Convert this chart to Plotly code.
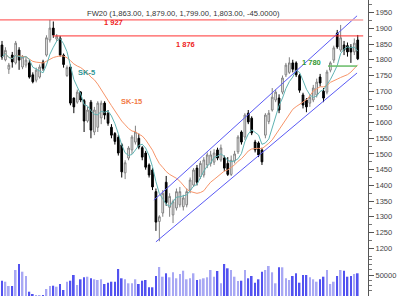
import plotly.graph_objects as go
import pandas as pd

# ---- data ----
opens = [1847,1800,1770,1815,1790,1831,1777,1783,1790,1752,1735,1745,1793,1815,1863,1901,1866,1869,1815,1750,
         1777,1678,1665,1697,1670,1605,1665,1570,1585,1615,1662,1630,1585,1565,1553,1529,1440,1487,1513,1538,
         1550,1520,1503,1465,1449,1380,1285,1312,1410,1330,1306,1328,1338,1332,1338,1385,1401,1455,1427,1433,
         1465,1470,1474,1513,1481,1487,1470,1435,1478,1507,1570,1554,1630,1614,1538,1535,1513,1560,1603,1640,
         1672,1678,1697,1752,1760,1790,1790,1750,1688,1672,1662,1672,1688,1745,1700,1697,1767,1799,1885,1831,
         1847,1845,1840,1825,1863]
highs = [1860,1840,1790,1825,1860,1840,1815,1810,1800,1760,1775,1785,1800,1878,1927,1922,1882,1876,1820,1782,
         1785,1680,1705,1700,1675,1650,1672,1650,1668,1670,1668,1640,1595,1570,1560,1535,1480,1525,1560,1590,
         1565,1525,1510,1470,1455,1390,1305,1385,1430,1375,1355,1390,1395,1370,1390,1425,1455,1465,1478,1490,
         1505,1510,1515,1520,1530,1495,1490,1495,1510,1560,1575,1630,1640,1620,1545,1540,1520,1630,1640,1710,
         1705,1690,1750,1790,1808,1800,1795,1755,1695,1678,1690,1720,1740,1755,1710,1768,1795,1845,1895,1911,
         1860,1855,1850,1868,1879]
lows = [1800,1795,1755,1775,1785,1768,1770,1775,1740,1725,1728,1740,1765,1810,1855,1870,1860,1810,1775,1745,
        1655,1630,1660,1665,1570,1600,1550,1560,1570,1595,1610,1590,1550,1530,1495,1425,1420,1480,1500,1530,
        1515,1480,1450,1425,1385,1255,1222,1300,1335,1300,1280,1320,1330,1320,1330,1375,1395,1400,1420,1425,
        1455,1460,1465,1480,1475,1445,1430,1430,1470,1500,1530,1545,1595,1560,1505,1490,1465,1550,1595,1635,
        1665,1630,1690,1745,1755,1760,1745,1695,1645,1633,1650,1665,1680,1715,1665,1690,1760,1790,1835,1825,
        1815,1810,1790,1815,1799]
closes = [1809,1830,1783,1793,1853,1799,1809,1799,1745,1730,1767,1777,1773,1870,1901,1879,1875,1815,1785,1775,
          1662,1650,1697,1672,1605,1640,1576,1640,1662,1662,1624,1598,1560,1540,1503,1443,1472,1519,1554,1570,
          1522,1490,1458,1433,1395,1283,1300,1375,1345,1365,1348,1380,1380,1360,1380,1417,1449,1410,1470,1481,
          1497,1497,1503,1487,1519,1455,1435,1480,1500,1554,1538,1624,1602,1567,1513,1497,1475,1624,1630,1681,
          1697,1640,1742,1783,1790,1770,1752,1703,1656,1650,1681,1710,1729,1726,1678,1761,1790,1838,1841,1870,
          1831,1825,1825,1853,1803]
volumes = [36430,34050,23810,23810,61900,76190,57860,47620,10240,4760,2380,1000,1000,16670,23810,24520,22140,28570,14290,34050,
           36430,50000,26190,39760,44520,45950,42140,39760,38100,39760,28570,31670,34050,34050,64290,42140,39760,30240,30240,39760,
           28570,36430,38100,20710,20710,47620,69050,45950,54050,44520,56430,42140,52380,60240,39760,42140,54050,38100,
           39760,42140,44520,61900,45950,59520,30240,76190,65950,61900,45950,35710,36430,61900,42140,47620,31670,39760,
           57860,61900,71430,56430,30240,68330,68330,42140,38100,47620,54050,31670,50000,50000,44520,39760,34050,40000,
           45950,61900,28570,34050,47620,61900,60240,45950,47620,52380,54050]

title_text = "FW20 (1,863.00, 1,879.00, 1,799.00, 1,803.00, -45.0000)"
level_high = 1927
level_mid = 1876
level_low = 1780
channel_upper_x = [44.4, 103.8]
channel_upper_y = [1353, 1940]
channel_lower_x = [45.0, 103.8]
channel_lower_y = [1220, 1758]
price_ticks = list(range(1200, 1951, 50))
vol_ticks = [50000]

n = len(closes)
idx = list(range(n))
s = pd.Series(closes, dtype=float)
sk5 = s.rolling(5, min_periods=1).mean()
sk15 = s.rolling(15, min_periods=1).mean()

FONT = "Liberation Sans, Arial, sans-serif"

fig = go.Figure()

# volume
vcol = ["#a8a8f4" if c >= o else "#5252f0" for o, c in zip(opens, closes)]
fig.add_trace(go.Bar(x=idx, y=volumes[:n], yaxis="y2", marker=dict(color=vcol, line=dict(width=0)),
                     width=0.5, showlegend=False, hoverinfo="skip"))

# candles
fig.add_trace(go.Candlestick(
    x=idx, open=opens, high=highs, low=lows, close=closes,
    increasing=dict(line=dict(color="#808080", width=1), fillcolor="#ffffff"),
    decreasing=dict(line=dict(color="#000000", width=1), fillcolor="#000000"),
    whiskerwidth=0, showlegend=False))

# moving averages
fig.add_trace(go.Scatter(x=idx, y=sk15, mode="lines", line=dict(color="#f7956a", width=1), showlegend=False))
fig.add_trace(go.Scatter(x=idx, y=sk5, mode="lines", line=dict(color="#5fb3b3", width=1), showlegend=False))

# channel lines
fig.add_trace(go.Scatter(x=channel_upper_x, y=channel_upper_y, mode="lines",
                         line=dict(color="#5a5af5", width=1), showlegend=False))
fig.add_trace(go.Scatter(x=channel_lower_x, y=channel_lower_y, mode="lines",
                         line=dict(color="#5a5af5", width=1), showlegend=False))

# horizontal levels
fig.add_trace(go.Scatter(x=[-0.6, 65.8], y=[level_high, level_high], mode="lines",
                         line=dict(color="#ff4040", width=1), showlegend=False))
fig.add_trace(go.Scatter(x=[65.8, 105.6], y=[level_high, level_high], mode="lines",
                         line=dict(color="#f5a3a3", width=1.5), showlegend=False))
fig.add_trace(go.Scatter(x=[14.9, 105.6], y=[level_mid, level_mid], mode="lines",
                         line=dict(color="#ff3030", width=1), showlegend=False))
fig.add_trace(go.Scatter(x=[95.3, 103.8], y=[level_low, level_low], mode="lines",
                         line=dict(color="#66bb66", width=1.5), showlegend=False))

ann = [
    dict(text="1 927", x=32.5, y=1918, color="#ee2222"),
    dict(text="1 876", x=53.5, y=1850, color="#ee2222"),
    dict(text="1 780", x=90.6, y=1792, color="#339933"),
    dict(text="SK-5", x=24.6, y=1760, color="#2e9696"),
    dict(text="SK-15", x=38.0, y=1668, color="#f27a45"),
]
annotations = [dict(x=a["x"], y=a["y"], xref="x", yref="y", text="<b>%s</b>" % a["text"], showarrow=False,
                    font=dict(family=FONT, size=7.5, color=a["color"])) for a in ann]
annotations.append(dict(x=183.5 / 368, y=1 - 7 / 296, xref="paper", yref="paper", text=title_text,
                        showarrow=False, font=dict(family=FONT, size=7.6, color="#333333")))

vol_dom = 38 / 296
fig.update_layout(
    width=400, height=296, margin=dict(l=0, r=32, t=0, b=0),
    paper_bgcolor="white", plot_bgcolor="white",
    showlegend=False, annotations=annotations,
    xaxis=dict(range=[-0.585, 107.0], visible=False, rangeslider=dict(visible=False), fixedrange=True),
    yaxis=dict(domain=[vol_dom, 1], range=[1168.7, 1990.4], side="right", showgrid=False, zeroline=False,
               showline=True, linecolor="#555555", linewidth=1, ticks="outside", ticklen=5, tickcolor="#555555",
               tickvals=price_ticks, ticktext=[str(t) for t in price_ticks],
               tickfont=dict(family=FONT, size=7.5, color="#444444"),
               minor=dict(dtick=25, tick0=0, ticks="outside", ticklen=3, tickcolor="#777777", showgrid=False)),
    yaxis2=dict(domain=[0, vol_dom], range=[0, 90476], side="right", anchor="x", showgrid=False, zeroline=False,
                showline=True, linecolor="#555555", linewidth=1, ticks="outside", ticklen=5, tickcolor="#555555",
                tickvals=vol_ticks, ticktext=["50000"],
                tickfont=dict(family=FONT, size=7.5, color="#444444"),
                minor=dict(dtick=12500, tick0=0, ticks="outside", ticklen=3, tickcolor="#777777", showgrid=False)),
    bargap=0.5,
)

fig.write_html("out.html")
